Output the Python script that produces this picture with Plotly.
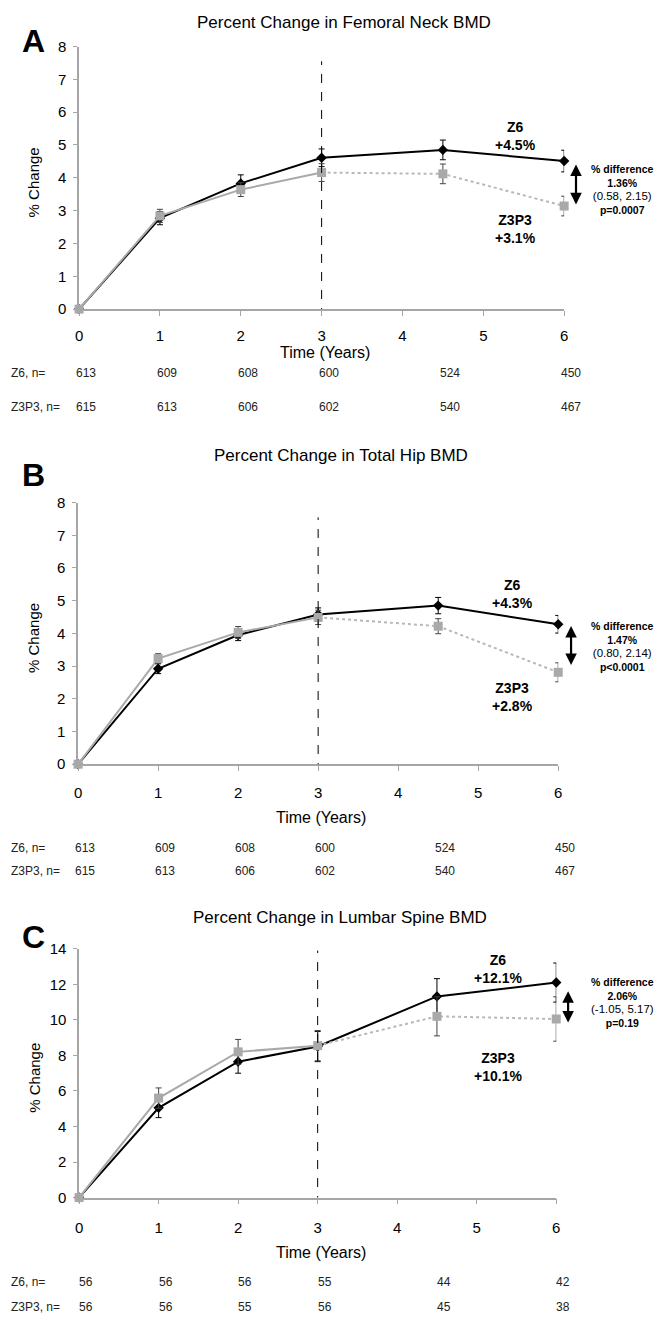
import plotly.graph_objects as go

W, H = 662, 1327
FONT = "Liberation Sans, Arial, sans-serif"

# ---------------- data ----------------
years = [0, 1, 2, 3, 4.5, 6]
x_ticks = [0, 1, 2, 3, 4, 5, 6]

# Panel A: Femoral neck
fn_z6 = [0, 2.77, 3.83, 4.61, 4.85, 4.51]
fn_z6_err = [0, 0.20, 0.26, 0.27, 0.30, 0.33]
fn_z3p3 = [0, 2.84, 3.64, 4.16, 4.12, 3.14]
fn_z3p3_err = [0, 0.20, 0.21, 0.27, 0.30, 0.30]
fn_n_z6 = [613, 609, 608, 600, 524, 450]
fn_n_z3p3 = [615, 613, 606, 602, 540, 467]

# Panel B: Total hip
th_z6 = [0, 2.92, 3.95, 4.58, 4.85, 4.28]
th_z6_err = [0, 0.15, 0.17, 0.20, 0.25, 0.27]
th_z3p3 = [0, 3.23, 4.03, 4.49, 4.22, 2.81]
th_z3p3_err = [0, 0.15, 0.18, 0.22, 0.23, 0.29]
th_n_z6 = [613, 609, 608, 600, 524, 450]
th_n_z3p3 = [615, 613, 606, 602, 540, 467]

# Panel C: Lumbar spine
ls_z6 = [0, 5.05, 7.65, 8.50, 11.32, 12.10]
ls_z6_err = [0, 0.55, 0.65, 0.85, 1.00, 1.10]
ls_z3p3 = [0, 5.60, 8.20, 8.55, 10.20, 10.05]
ls_z3p3_err = [0, 0.57, 0.70, 0.85, 1.10, 1.25]
ls_n_z6 = [56, 56, 56, 55, 44, 42]
ls_n_z3p3 = [56, 56, 55, 56, 45, 38]

titles = ["Percent Change in Femoral Neck BMD",
          "Percent Change in Total Hip BMD",
          "Percent Change in Lumbar Spine BMD"]
letters = ["A", "B", "C"]
z6_labels = [("Z6", "+4.5%"), ("Z6", "+4.3%"), ("Z6", "+12.1%")]
z3p3_labels = [("Z3P3", "+3.1%"), ("Z3P3", "+2.8%"), ("Z3P3", "+10.1%")]
diff_pct = ["1.36%", "1.47%", "2.06%"]
diff_ci = ["(0.58, 2.15)", "(0.80, 2.14)", "(-1.05, 5.17)"]
diff_p = ["p=0.0007", "p&lt;0.0001", "p=0.19"]
y_maxes = [8, 8, 14]
y_dticks = [1, 1, 2]

panels = [
    (fn_z6, fn_z6_err, fn_z3p3, fn_z3p3_err, fn_n_z6, fn_n_z3p3),
    (th_z6, th_z6_err, th_z3p3, th_z3p3_err, th_n_z6, th_n_z3p3),
    (ls_z6, ls_z6_err, ls_z3p3, ls_z3p3_err, ls_n_z6, ls_n_z3p3),
]

# ---------------- layout geometry (pixels / label anchors) ----------------
geo = [
    dict(x0=76, x1=567, ytop=38, ybot=304, title_y=14, letter_y=32, tick_sd=7,
         time_y=348, row1=369, row2=403, lab_x=5.4, z6_y=5.28, z3_y=2.43,
         arr_px=579, arr_top=4.45, arr_bot=3.19, diff_y=3.64, dash_top=7.55),
    dict(x0=75, x1=561, ytop=500, ybot=765, title_y=452, letter_y=472, tick_sd=9,
         time_y=819, row1=850, row2=873, lab_x=5.43, z6_y=5.22, z3_y=2.04,
         arr_px=574, arr_top=4.27, arr_bot=3.03, diff_y=3.61, dash_top=7.55),
    dict(x0=76, x1=559, ytop=952, ybot=1204, title_y=920, letter_y=940, tick_sd=11,
         time_y=1260, row1=1290, row2=1315, lab_x=5.27, z6_y=12.85, z3_y=7.35,
         arr_px=571, arr_top=11.7, arr_bot=9.85, diff_y=10.98, dash_top=13.9),
]


def px(p):
    return p / W


def py(p):
    return 1 - p / H


fig = go.Figure()
annotations = []
shapes = []
AXIS_GRAY = "#a6a6a6"
SQ_GRAY = "#a9a9a9"

for i, (z6, z6e, z3, z3e, n6, n3) in enumerate(panels):
    g = geo[i]
    sfx = "" if i == 0 else str(i + 1)
    xa, ya = "x" + sfx, "y" + sfx

    # Z6 line + markers + errors
    fig.add_trace(go.Scatter(
        x=years, y=z6, xaxis=xa, yaxis=ya, mode="lines+markers",
        line=dict(color="black", width=2),
        marker=dict(symbol="diamond", size=8, color="black"),
        error_y=dict(type="data", array=z6e, color="black", thickness=1, width=3),
        showlegend=False, cliponaxis=False))
    # Z3P3 solid part (0..3 years)
    fig.add_trace(go.Scatter(
        x=years[:4], y=z3[:4], xaxis=xa, yaxis=ya, mode="lines",
        line=dict(color=SQ_GRAY, width=2), showlegend=False, cliponaxis=False))
    # Z3P3 dotted part (3..6 years)
    fig.add_trace(go.Scatter(
        x=years[3:], y=z3[3:], xaxis=xa, yaxis=ya, mode="lines",
        line=dict(color="#b8b8b8", width=2, dash="dot"), showlegend=False,
        cliponaxis=False))
    # Z3P3 markers and error bars
    fig.add_trace(go.Scatter(
        x=years, y=z3, xaxis=xa, yaxis=ya, mode="markers",
        marker=dict(symbol="square", size=9, color=SQ_GRAY),
        error_y=dict(type="data", array=z3e, color="#444444", thickness=1, width=3),
        showlegend=False, cliponaxis=False))

    # axes
    common_x = dict(
        domain=[px(g["x0"]), px(g["x1"])], range=[0, 6], tickvals=x_ticks,
        showline=True, linecolor=AXIS_GRAY, linewidth=1.5, ticks="outside",
        ticklen=5, tickcolor=AXIS_GRAY, tickwidth=1, showgrid=False,
        zeroline=False, anchor=ya, ticklabelstandoff=g["tick_sd"],
        tickfont=dict(size=15, color="black", family=FONT), fixedrange=True)
    common_y = dict(
        domain=[py(g["ybot"]), py(g["ytop"])], range=[0, y_maxes[i]],
        dtick=y_dticks[i], tick0=0,
        showline=True, linecolor=AXIS_GRAY, linewidth=1.5, ticks="outside",
        ticklen=4, tickcolor=AXIS_GRAY, tickwidth=1, showgrid=False,
        zeroline=False, anchor=xa, ticklabelstandoff=4,
        tickfont=dict(size=15, color="black", family=FONT), fixedrange=True)
    fig.update_layout(**{"xaxis" + sfx: common_x, "yaxis" + sfx: common_y})

    # dashed vertical line at year 3
    shapes.append(dict(type="line", xref=xa, yref=ya, x0=3, x1=3,
                       y0=-0.03 * y_maxes[i], y1=g["dash_top"],
                       line=dict(color="black", width=1, dash="dash")))

    # titles and letters
    xc = (g["x0"] + g["x1"]) / 2
    annotations.append(dict(xref="paper", yref="paper", x=px(344 if i == 0 else xc + 23),
                            y=py(g["title_y"]), text=titles[i], showarrow=False,
                            font=dict(size=17, color="black", family=FONT),
                            xanchor="center", yanchor="middle"))
    annotations.append(dict(xref="paper", yref="paper", x=px(30), y=py(g["letter_y"]),
                            text="<b>%s</b>" % letters[i], showarrow=False,
                            font=dict(size=32, color="black", family=FONT),
                            xanchor="center", yanchor="middle"))
    # y-axis title
    annotations.append(dict(xref="paper", yref="paper", x=px(30),
                            y=py((g["ytop"] + g["ybot"]) / 2 + 5), text="% Change",
                            textangle=-90, showarrow=False,
                            font=dict(size=15, color="black", family=FONT),
                            xanchor="center", yanchor="middle"))
    # x-axis title
    annotations.append(dict(xref="paper", yref="paper", x=px(xc + 3), y=py(g["time_y"]),
                            text="Time (Years)", showarrow=False,
                            font=dict(size=16, color="black", family=FONT),
                            xanchor="center", yanchor="middle"))
    # group labels
    annotations.append(dict(xref=xa, yref=ya, x=g["lab_x"], y=g["z6_y"],
                            text="<b>%s</b><br><b>%s</b>" % z6_labels[i],
                            showarrow=False, font=dict(size=14, color="black", family=FONT),
                            xanchor="center", yanchor="middle"))
    annotations.append(dict(xref=xa, yref=ya, x=g["lab_x"], y=g["z3_y"],
                            text="<b>%s</b><br><b>%s</b>" % z3p3_labels[i],
                            showarrow=False, font=dict(size=14, color="black", family=FONT),
                            xanchor="center", yanchor="middle"))
    # double-headed arrow between the two end points
    annotations.append(dict(xref="paper", yref=ya, axref="pixel", ayref=ya,
                            x=px(g["arr_px"]), y=g["arr_bot"], ax=0, ay=g["arr_top"],
                            text="", showarrow=True, arrowside="end+start", arrowhead=2,
                            arrowsize=1.05, arrowwidth=2.2, arrowcolor="black",
                            standoff=0, startstandoff=0))
    # difference block
    diff_text = ("<b>% difference</b><br><b>{}</b><br>"
                 "<span style=\"font-size:11.5px\">{}</span><br><b>{}</b>").format(
        diff_pct[i], diff_ci[i], diff_p[i])
    annotations.append(dict(xref="paper", yref=ya, x=px(626), y=g["diff_y"],
                            text=diff_text, showarrow=False,
                            font=dict(size=10.5, color="black", family=FONT),
                            xanchor="center", yanchor="middle", align="center"))
    # n rows
    for row_y, label, vals in ((g["row1"], "Z6, n=", n6), (g["row2"], "Z3P3, n=", n3)):
        annotations.append(dict(xref="paper", yref="paper", x=px(5), y=py(row_y),
                                text=label, showarrow=False,
                                font=dict(size=12, color="#222222", family=FONT),
                                xanchor="left", yanchor="middle"))
        for t, v in zip(years, vals):
            annotations.append(dict(xref=xa, yref="paper", x=t, y=py(row_y),
                                    xshift=7, text=str(v), showarrow=False,
                                    font=dict(size=12, color="#222222", family=FONT),
                                    xanchor="center", yanchor="middle"))

fig.update_layout(
    width=W, height=H, margin=dict(l=0, r=0, t=0, b=0),
    paper_bgcolor="white", plot_bgcolor="white",
    font=dict(family=FONT, color="black"),
    annotations=annotations, shapes=shapes, showlegend=False,
)

fig.write_html(
    "out.html",
    config={"displayModeBar": False},
    post_script=("document.body.style.margin='0px';"
                 "document.body.style.padding='0px';"
                 "document.documentElement.style.overflow='hidden';"),
)
